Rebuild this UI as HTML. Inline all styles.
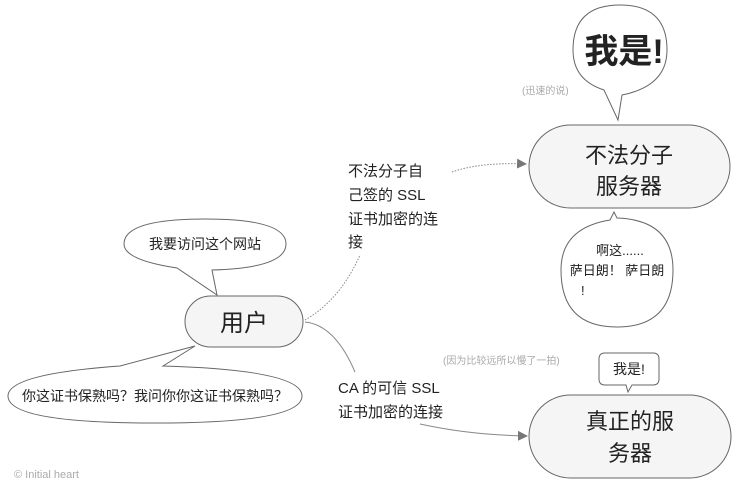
<!DOCTYPE html>
<html><head><meta charset="utf-8"><style>
html,body{margin:0;padding:0;background:#fff;}
svg{display:block;font-family:"Liberation Sans","Noto Sans CJK SC",sans-serif;}
</style></head><body>
<svg width="737" height="491" viewBox="0 0 737 491" xmlns="http://www.w3.org/2000/svg">
<defs><marker id="a" markerWidth="10" markerHeight="10" refX="9" refY="5" orient="auto" markerUnits="userSpaceOnUse"><path d="M0,0 L10,5 L0,10Z" fill="#777"/></marker></defs>
<g fill="#fff" stroke="#666" stroke-width="1">
<path d="M177,268 Q124,260 124,244 Q124,219 205,219 Q286,219 286,244 Q286,268 212,270 L217,295 Z"/>
<path d="M120,366 Q8,374 8,396 Q8,423 155,423 Q302,423 302,396 Q302,370 163,366 L195,346 Z"/>
<path d="M604,90 Q573,80 573,50 Q573,5 620,5 Q667,5 667,50 Q667,86 622,95 L618,120 Z"/>
<path d="M614,212 L617,218 Q673,220 673,270 Q673,327 617,327 Q561,327 561,270 Q561,228 610,220 Z"/>
<path d="M605,353 H653 Q659,353 659,359 V379 Q659,385 653,385 H632 L628,392 L626,385 H605 Q599,385 599,379 V359 Q599,353 605,353 Z"/>
</g>
<g fill="#f5f5f5" stroke="#666" stroke-width="1">
<rect x="185" y="296" width="118" height="51" rx="25.5"/>
<rect x="529" y="125" width="201" height="83" rx="41.5"/>
<rect x="529" y="395" width="202" height="83" rx="41.5"/>
</g>
<g fill="none" stroke="#888" stroke-width="1">
<path d="M305,320 Q340,300 360,255" stroke-dasharray="1.5,1.5"/>
<path d="M452,172 Q480,162 526,164" stroke-dasharray="1.5,1.5" marker-end="url(#a)"/>
<path d="M305,322 Q335,325 355,372"/>
<path d="M420,424 Q470,435 527,436" marker-end="url(#a)"/>
</g>
<g fill="#222" text-anchor="middle">
<text x="244" y="331" font-size="24">用户</text>
<text x="629" y="163" font-size="22">不法分子</text>
<text x="629" y="194" font-size="22">服务器</text>
<text x="630" y="429" font-size="22">真正的服</text>
<text x="630" y="461" font-size="22">务器</text>
<text x="624" y="63" font-size="34" font-weight="bold">我是!</text>
<text x="205" y="249" font-size="14">我要访问这个网站</text>
<text x="155" y="401" font-size="14">你这证书保熟吗？我问你你这证书保熟吗？</text>
<text x="629" y="374" font-size="14">我是!</text>
<text x="620" y="255" font-size="13">啊这......</text>
<text x="617" y="275" font-size="13">萨日朗！ 萨日朗</text>
</g>
<g fill="#222" font-size="15">
<text x="581" y="295" font-size="13">!</text>
<text x="348" y="176">不法分子自</text>
<text x="348" y="200">己签的 SSL</text>
<text x="348" y="224">证书加密的连</text>
<text x="348" y="247">接</text>
<text x="338" y="393">CA 的可信 SSL</text>
<text x="338" y="417">证书加密的连接</text>
</g>
<g fill="#aaa" font-size="10">
<text x="522" y="94">(迅速的说)</text>
<text x="443" y="364">(因为比较远所以慢了一拍)</text>
<text x="14" y="478" font-size="11">© Initial heart</text>
</g>
</svg>
</body></html>
